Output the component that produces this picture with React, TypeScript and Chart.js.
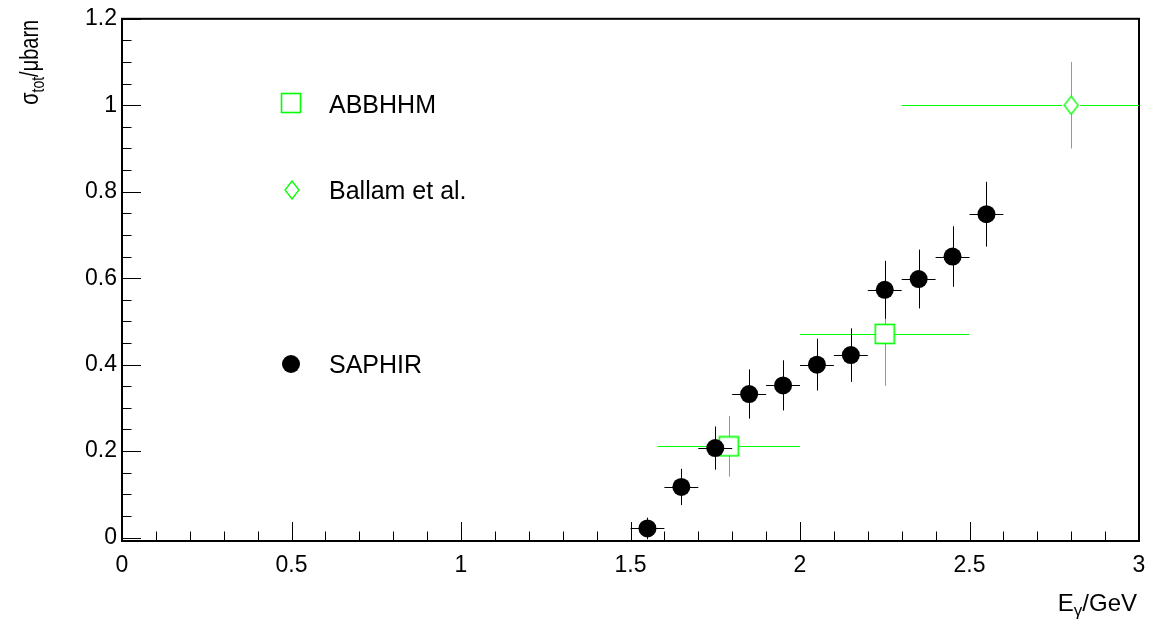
import React, { useEffect, useRef } from 'react';
import { Chart, registerables } from 'chart.js';

Chart.register(...registerables);

// ---- data ----
const saphirE = [1.55, 1.65, 1.75, 1.85, 1.95, 2.05, 2.15, 2.25, 2.35, 2.45, 2.55];
const saphirSigma = [0.021, 0.117, 0.207, 0.332, 0.352, 0.4, 0.422, 0.573, 0.598, 0.65, 0.748];
const saphirErrE = [0.05, 0.05, 0.05, 0.05, 0.05, 0.05, 0.05, 0.05, 0.05, 0.05, 0.05];
const saphirErrSigma = [0.025, 0.042, 0.05, 0.057, 0.058, 0.06, 0.062, 0.067, 0.068, 0.07, 0.075];

const abbhhmE = [1.79, 2.25];
const abbhhmSigma = [0.211, 0.471];
const abbhhmELow = [1.58, 2.0];
const abbhhmEHigh = [2.0, 2.5];
const abbhhmErrSigma = [0.07, 0.12];

const ballamE = [2.8];
const ballamSigma = [1.0];
const ballamELow = [2.3];
const ballamEHigh = [3.3];
const ballamErrSigma = [0.1];

const xTickValues = [0, 0.5, 1, 1.5, 2, 2.5, 3];
const yTickValues = [0, 0.2, 0.4, 0.6, 0.8, 1, 1.2];
const xMinorStep = 0.1;
const yMinorStep = 0.05;

const legendLabels = ['ABBHHM', 'Ballam et al.', 'SAPHIR'];

const GREEN = '#00ff00';
const FONT = '"Liberation Sans", Arial, Helvetica, sans-serif';

function makeSquare(): HTMLCanvasElement {
  const c = document.createElement('canvas');
  c.width = 22; c.height = 22;
  const g = c.getContext('2d')!;
  g.strokeStyle = GREEN;
  g.lineWidth = 1.6;
  g.strokeRect(1.5, 1.5, 19, 19);
  return c;
}

function makeDiamond(): HTMLCanvasElement {
  const c = document.createElement('canvas');
  c.width = 16; c.height = 20;
  const g = c.getContext('2d')!;
  g.strokeStyle = GREEN;
  g.lineWidth = 1.3;
  g.beginPath();
  g.moveTo(8, 1); g.lineTo(15, 10); g.lineTo(8, 19); g.lineTo(1, 10); g.closePath();
  g.stroke();
  return c;
}

function fmt(v: number): string {
  return String(Math.round(v * 100) / 100);
}

export default function App() {
  const ref = useRef<HTMLCanvasElement | null>(null);

  useEffect(() => {
    const canvas = ref.current;
    if (!canvas) return;
    const square = makeSquare();
    const diamond = makeDiamond();

    const saphirData = saphirE.map((e, i) => ({
      x: e, y: saphirSigma[i],
      xl: e - saphirErrE[i], xh: e + saphirErrE[i],
      yl: saphirSigma[i] - saphirErrSigma[i], yh: saphirSigma[i] + saphirErrSigma[i],
    }));
    const abbhhmData = abbhhmE.map((e, i) => ({
      x: e, y: abbhhmSigma[i], xl: abbhhmELow[i], xh: abbhhmEHigh[i],
      yl: abbhhmSigma[i] - abbhhmErrSigma[i], yh: abbhhmSigma[i] + abbhhmErrSigma[i],
    }));
    const ballamData = ballamE.map((e, i) => ({
      x: e, y: ballamSigma[i], xl: ballamELow[i], xh: ballamEHigh[i],
      yl: ballamSigma[i] - ballamErrSigma[i], yh: ballamSigma[i] + ballamErrSigma[i],
    }));

    const errorBars = {
      id: 'errorBars',
      beforeDatasetsDraw(chart: any) {
        const ctx = chart.ctx;
        const xs = chart.scales.x, ys = chart.scales.y;
        const area = chart.chartArea;
        ctx.save();
        ctx.beginPath();
        ctx.rect(area.left, area.top, area.right - area.left, area.bottom - area.top);
        ctx.clip();
        ctx.lineWidth = 1;
        const order = [1, 2, 0];
        for (const di of order) {
          const ds = chart.data.datasets[di];
          const gap = ds.errGap || 0;
          ctx.strokeStyle = ds.errColor;
          for (const p of ds.data) {
            const px = xs.getPixelForValue(p.x);
            const py = ys.getPixelForValue(p.y);
            const xl = xs.getPixelForValue(p.xl);
            const xh = xs.getPixelForValue(p.xh);
            const yl = ys.getPixelForValue(p.yl);
            const yh = ys.getPixelForValue(p.yh);
            const cy = Math.round(py) + 0.5;
            const cx = Math.round(px) + 0.5;
            ctx.beginPath();
            ctx.moveTo(xl, cy); ctx.lineTo(px - gap, cy);
            ctx.moveTo(px + gap, cy); ctx.lineTo(xh, cy);
            ctx.moveTo(cx, yh); ctx.lineTo(cx, py - gap);
            ctx.moveTo(cx, py + gap); ctx.lineTo(cx, yl);
            ctx.stroke();
          }
        }
        ctx.restore();
      },
    };

    const frame = {
      id: 'frameTicks',
      beforeDatasetsDraw(chart: any) {
        const ctx = chart.ctx;
        const xs = chart.scales.x, ys = chart.scales.y;
        const a = chart.chartArea;
        ctx.save();
        ctx.strokeStyle = '#000';
        ctx.lineWidth = 1;
        ctx.beginPath();
        for (let k = 0; k <= Math.round(3 / xMinorStep); k++) {
          const v = k * xMinorStep;
          const isMajor = xTickValues.some((t) => Math.abs(t - v) < 1e-6);
          const px = Math.round(xs.getPixelForValue(v)) + 0.5;
          const len = isMajor ? 19 : 9.5;
          ctx.moveTo(px, a.bottom); ctx.lineTo(px, a.bottom - len);
        }
        for (let k = 0; k <= Math.round(1.2 / yMinorStep); k++) {
          const v = k * yMinorStep;
          const isMajor = yTickValues.some((t) => Math.abs(t - v) < 1e-6);
          const py = Math.round(ys.getPixelForValue(v)) + 0.5;
          const len = isMajor ? 19 : 9.5;
          ctx.moveTo(a.left, py); ctx.lineTo(a.left + len, py);
        }
        ctx.stroke();
        ctx.lineWidth = 2;
        ctx.strokeRect(a.left, a.top, a.right - a.left, a.bottom - a.top);
        ctx.restore();
      },
      afterDraw(chart: any) {
        const ctx = chart.ctx;
        const a = chart.chartArea;
        ctx.save();
        ctx.fillStyle = '#000';
        ctx.textBaseline = 'alphabetic';
        // x title: E_γ/GeV, right aligned
        const mainX = `24px ${FONT}`;
        const subX = `17px ${FONT}`;
        ctx.font = mainX; const wE = ctx.measureText('E').width; const wRest = ctx.measureText('/GeV').width;
        ctx.font = subX; const wG = ctx.measureText('γ').width;
        let x0 = a.right - 2 - (wE + wG + wRest);
        const by = 611;
        ctx.font = mainX; ctx.textAlign = 'left';
        ctx.fillText('E', x0, by); x0 += wE;
        ctx.font = subX; ctx.fillText('γ', x0, by + 5); x0 += wG;
        ctx.font = mainX; ctx.fillText('/GeV', x0, by);

        // y title: σ_tot/μbarn rotated
        const mainY = `20px ${FONT}`;
        const subY = `14px ${FONT}`;
        ctx.font = mainY; const ws = ctx.measureText('σ').width; const wr = ctx.measureText('/μbarn').width;
        ctx.font = subY; const wt = ctx.measureText('tot').width;
        ctx.translate(38, a.top + 1);
        ctx.rotate(-Math.PI / 2);
        ctx.scale(1, 1.25);
        let lx = -(ws + wt + wr);
        ctx.font = mainY; ctx.fillText('σ', lx, 0); lx += ws;
        ctx.font = subY; ctx.fillText('tot', lx, 5); lx += wt;
        ctx.font = mainY; ctx.fillText('/μbarn', lx, 0);
        ctx.restore();

        // legend
        ctx.save();
        const lfont = `25px ${FONT}`;
        const markX = 291;
        const textX = 329;
        const rows = [103, 190, 364];
        const baselines = [113, 199, 373];
        ctx.drawImage(square, markX - 11, rows[0] - 11);
        ctx.drawImage(diamond, markX + 1 - 8, rows[1] - 10);
        ctx.fillStyle = '#000';
        ctx.beginPath(); ctx.arc(markX, rows[2], 9, 0, Math.PI * 2); ctx.fill();
        ctx.font = lfont; ctx.textAlign = 'left'; ctx.textBaseline = 'alphabetic';
        legendLabels.forEach((t, i) => ctx.fillText(t, textX, baselines[i]));
        ctx.restore();
      },
    };

    const tickFont = { family: FONT, size: 23 };

    const chart = new Chart(canvas, {
      type: 'scatter',
      data: {
        datasets: [
          {
            label: 'SAPHIR', data: saphirData as any, pointStyle: 'circle', pointRadius: 9,
            backgroundColor: '#000', borderColor: '#000', borderWidth: 0,
            errColor: '#000', errGap: 0,
          } as any,
          {
            label: 'ABBHHM', data: abbhhmData as any, pointStyle: square as any, pointRadius: 10,
            errColor: GREEN, errGap: 9.5,
          } as any,
          {
            label: 'Ballam et al.', data: ballamData as any, pointStyle: diamond as any, pointRadius: 9,
            errColor: GREEN, errGap: 9,
          } as any,
        ],
      },
      options: {
        responsive: false,
        animation: false,
        devicePixelRatio: 1,
        layout: { padding: { left: 0, top: 17, right: 23, bottom: 0 } },
        plugins: { legend: { display: false }, tooltip: { enabled: false } },
        scales: {
          x: {
            type: 'linear', min: 0, max: 3,
            afterBuildTicks: (s: any) => { s.ticks = xTickValues.map((v) => ({ value: v })); },
            afterFit: (s: any) => { s.height = 86; },
            grid: { display: false, drawTicks: false },
            border: { display: false },
            ticks: { font: tickFont, color: '#000', padding: 11, maxRotation: 0, autoSkip: false, callback: (v: any) => fmt(Number(v)) },
          },
          y: {
            type: 'linear', min: -0.008, max: 1.2,
            afterBuildTicks: (s: any) => { s.ticks = yTickValues.map((v) => ({ value: v })); },
            afterFit: (s: any) => { s.width = 122; },
            grid: { display: false, drawTicks: false },
            border: { display: false },
            ticks: { font: tickFont, color: '#000', padding: 5, autoSkip: false, callback: (v: any) => fmt(Number(v)) },
          },
        },
      },
      plugins: [frame, errorBars],
    });
    return () => chart.destroy();
  }, []);

  return (
    <div style={{ position: 'fixed', left: 0, top: 0, width: 1162, height: 627, background: '#fff' }}>
      <canvas ref={ref} width={1162} height={627} style={{ display: 'block', width: 1162, height: 627 }} />
    </div>
  );
}
